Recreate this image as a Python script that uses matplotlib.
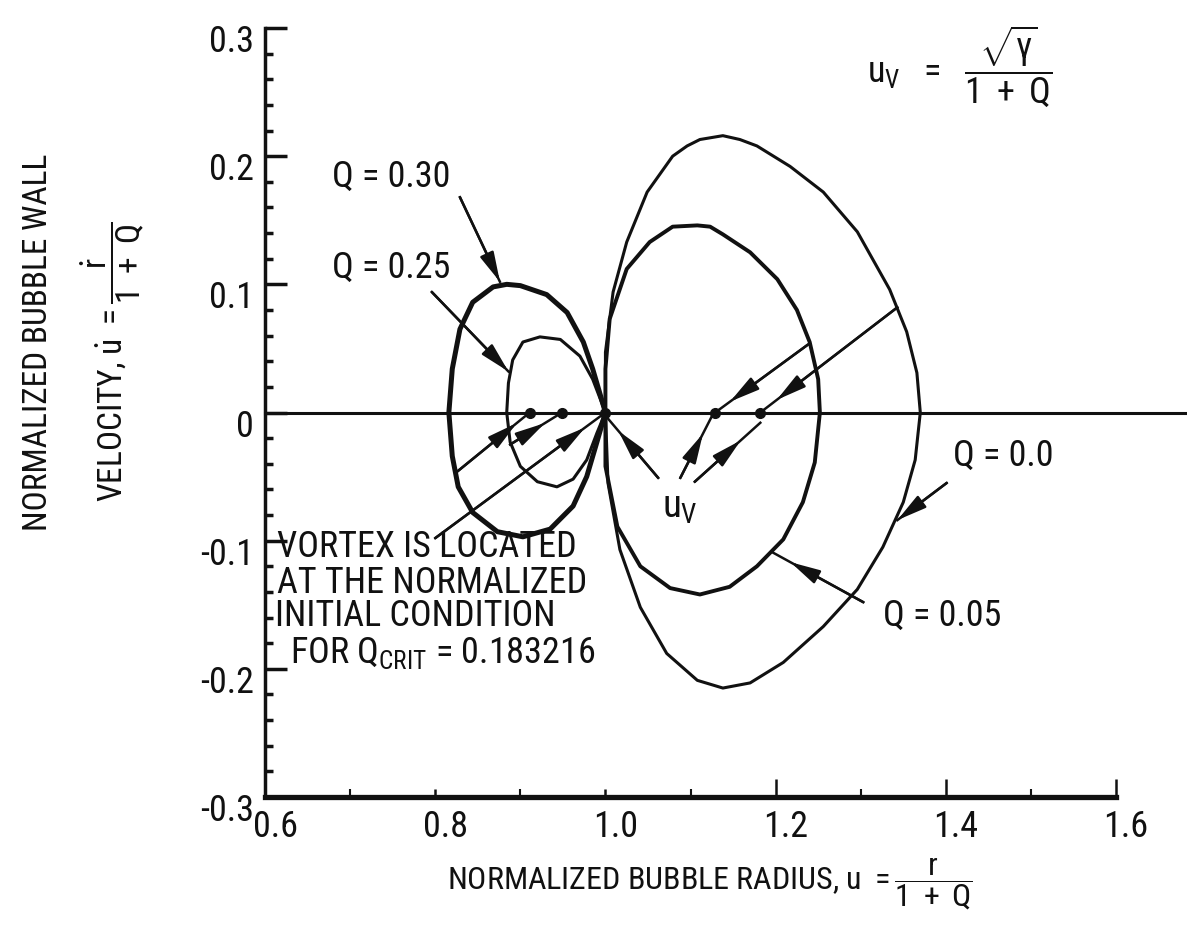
import matplotlib
matplotlib.use("Agg")
import matplotlib.pyplot as plt
from matplotlib import font_manager
from matplotlib.transforms import ScaledTranslation

# orbits: normalized radius u and wall velocity u-dot
q00_u = [1.000, 1.000, 1.009, 1.025, 1.049, 1.079, 1.096, 1.111, 1.138, 1.158, 1.178, 1.217, 1.256,
         1.296, 1.334, 1.354, 1.366, 1.370, 1.364, 1.350, 1.326, 1.296, 1.256, 1.209, 1.170, 1.138,
         1.108, 1.072, 1.041, 1.017, 1.003, 1.000]
q00_v = [0.000, 0.047, 0.094, 0.133, 0.172, 0.200, 0.208, 0.213, 0.216, 0.213, 0.208, 0.192, 0.172,
         0.141, 0.096, 0.063, 0.031, 0.000, -0.037, -0.070, -0.105, -0.138, -0.167, -0.195, -0.211,
         -0.215, -0.209, -0.188, -0.152, -0.107, -0.055, 0.000]

q05_u = [1.000, 1.000, 1.005, 1.025, 1.052, 1.079, 1.108, 1.123, 1.138, 1.170, 1.202, 1.225, 1.240,
         1.250, 1.252, 1.246, 1.232, 1.209, 1.178, 1.146, 1.111, 1.076, 1.041, 1.014, 1.000, 1.000]
q05_v = [0.000, 0.034, 0.073, 0.112, 0.133, 0.145, 0.146, 0.145, 0.139, 0.125, 0.104, 0.080, 0.055,
         0.026, 0.000, -0.039, -0.070, -0.099, -0.120, -0.136, -0.142, -0.137, -0.120, -0.089,
         -0.042, 0.000]

q30_u = [1.000, 0.985, 0.974, 0.955, 0.931, 0.900, 0.884, 0.868, 0.844, 0.829, 0.820, 0.816, 0.820,
         0.827, 0.844, 0.873, 0.903, 0.935, 0.962, 0.978, 0.990, 1.000]
q30_v = [0.000, 0.034, 0.055, 0.078, 0.092, 0.099, 0.100, 0.098, 0.086, 0.065, 0.034, 0.000, -0.034,
         -0.058, -0.078, -0.093, -0.097, -0.091, -0.073, -0.050, -0.023, 0.000]

q25_u = [1.000, 0.985, 0.970, 0.947, 0.923, 0.903, 0.891, 0.886, 0.884, 0.888, 0.900, 0.920, 0.943,
         0.962, 0.978, 0.990, 1.000]
q25_v = [0.000, 0.026, 0.044, 0.057, 0.059, 0.055, 0.041, 0.023, 0.000, -0.023, -0.042, -0.054, -0.058,
         -0.052, -0.037, -0.016, 0.000]

# vortex (centre) locations on the u axis, and where each pointer starts
vortex_u = [0.911, 0.949, 1.000, 1.129, 1.182]
vortex_from_u = [0.826, 0.888, 0.800, 1.238, 1.343]
vortex_from_v = [-0.046, -0.025, -0.098, 0.053, 0.082]
vortex_head = [0.82, 0.67, 0.88, 0.84, 0.88]

xticks = [0.6, 0.8, 1.0, 1.2, 1.4, 1.6]
xtick_labels = ["0.6", "0.8", "1.0", "1.2", "1.4", "1.6"]
yticks = [-0.3, -0.2, -0.1, 0.0, 0.1, 0.2, 0.3]
ytick_labels = ["-0.3", "-0.2", "-0.1", "0", "0.1", "0.2", "0.3"]

ink = "#111111"

have = {f.name for f in font_manager.fontManager.ttflist}
font = "DejaVu Sans"
for fam in ["Liberation Sans Narrow", "Roboto Condensed", "DejaVu Sans"]:
    if fam in have:
        font = fam
        break
plt.rcParams["font.family"] = font
plt.rcParams["mathtext.fontset"] = "custom"
plt.rcParams["mathtext.rm"] = font
plt.rcParams["mathtext.it"] = font
plt.rcParams["mathtext.sf"] = font
plt.rcParams["text.color"] = ink

fig = plt.figure(figsize=(11.87, 9.34), dpi=100)
ax = fig.add_axes([0.2233, 0.1467, 0.7169, 0.8233])
ax.set_xlim(0.6, 1.6)
ax.set_ylim(-0.3, 0.3)

for s in ["top", "right"]:
    ax.spines[s].set_visible(False)
ax.spines["left"].set_linewidth(2.5)
ax.spines["bottom"].set_linewidth(3.8)
ax.spines["left"].set_color(ink)
ax.spines["bottom"].set_color(ink)

ax.set_xticks(xticks)
ax.set_xticklabels(xtick_labels)
ax.set_xticks([0.7, 0.9, 1.1, 1.3, 1.5], minor=True)
ax.set_yticks(yticks)
ax.set_yticklabels(ytick_labels)
ax.set_yticks([round(-0.3 + 0.02 * i, 2) for i in range(31)], minor=True)
ax.tick_params(axis="both", which="both", direction="in", colors=ink, labelsize=26)
ax.tick_params(axis="y", which="major", length=16, width=2.5, pad=8)
ax.tick_params(axis="y", which="minor", length=6, width=2.5)
ax.tick_params(axis="x", which="major", length=13, width=1.8, pad=9)
ax.tick_params(axis="x", which="minor", length=6, width=1.5)
for t in ax.xaxis.get_major_ticks()[:3]:
    t.tick1line.set_markersize(6)

for lab in ax.get_yticklabels():
    lab.set_transform(lab.get_transform() + ScaledTranslation(0, -0.10, fig.dpi_scale_trans))
for lab in ax.get_xticklabels():
    lab.set_transform(lab.get_transform() + ScaledTranslation(0.10, 0, fig.dpi_scale_trans))

# zero line runs past the end of the axis
ax.axhline(0, xmin=0, xmax=1.09, color=ink, lw=2.2, clip_on=False)

curve_kw = dict(color=ink, solid_joinstyle="round", solid_capstyle="round")
ax.plot(q00_u, q00_v, lw=2.2, **curve_kw)
ax.plot(q05_u, q05_v, lw=2.8, **curve_kw)
ax.plot(q30_u, q30_v, lw=3.6, **curve_kw)
ax.plot(q25_u, q25_v, lw=2.2, **curve_kw)

ahead = dict(arrowstyle="-|>,head_length=0.9,head_width=0.22", color=ink, lw=1.8,
             shrinkA=0, shrinkB=0, mutation_scale=20)


def pointer(x0, y0, x1, y1, frac=1.0):
    ax.plot([x0, x1], [y0, y1], color=ink, lw=1.8)
    hx = x0 + frac * (x1 - x0)
    hy = y0 + frac * (y1 - y0)
    ax.annotate("", xy=(hx, hy), xytext=(x0, y0), arrowprops=ahead)


for i in range(len(vortex_u)):
    pointer(vortex_from_u[i], vortex_from_v[i], vortex_u[i], 0.0, vortex_head[i])
ax.plot(vortex_u, [0] * len(vortex_u), "o", color=ink, ms=7)

# u_v pointers
pointer(1.062, -0.051, 1.002, -0.004, 0.78)
pointer(1.088, -0.051, 1.125, -0.003, 0.72)
pointer(1.105, -0.054, 1.182, -0.008, 0.70)
ax.text(1.087, -0.074, r"$u_V$", fontsize=28, ha="center", va="center")

# orbit labels
ax.text(0.748, 0.184, "Q = 0.30", fontsize=26, ha="center", va="center")
pointer(0.829, 0.168, 0.876, 0.102)
ax.text(0.748, 0.113, "Q = 0.25", fontsize=26, ha="center", va="center")
pointer(0.796, 0.094, 0.886, 0.032)
ax.text(1.468, -0.034, "Q = 0.0", fontsize=26, ha="center", va="center")
pointer(1.401, -0.055, 1.343, -0.084)
ax.text(1.396, -0.159, "Q = 0.05", fontsize=26, ha="center", va="center")
pointer(1.303, -0.148, 1.196, -0.109, 0.8)

ax.text(1.417, 0.270, r"$u_V\ \ =\ \ \dfrac{\sqrt{\gamma}}{1\ +\ Q}$", fontsize=26,
        ha="center", va="center")

ax.text(0.614, -0.105, "VORTEX IS LOCATED", fontsize=26, ha="left", va="center")
ax.text(0.614, -0.133, "AT THE NORMALIZED", fontsize=26, ha="left", va="center")
ax.text(0.612, -0.159, "INITIAL CONDITION", fontsize=26, ha="left", va="center")
ax.text(0.629, -0.188, r"FOR Q$_{\mathrm{CRIT}}$ = 0.183216", fontsize=26, ha="left", va="center")

fig.text(0.598, 0.054, r"NORMALIZED BUBBLE RADIUS, $u\ =\dfrac{r}{1\ +\ Q}$",
         fontsize=23, ha="center", va="center")
fig.text(0.032, 0.633, "NORMALIZED BUBBLE WALL", fontsize=24, rotation=90,
         ha="center", va="center")
fig.text(0.094, 0.612, r"VELOCITY, $\dot{u}\ =\dfrac{\dot{r}}{1\ +\ Q}$", fontsize=24,
         rotation=90, ha="center", va="center")

fig.savefig("out.png", dpi=100, facecolor="white")
